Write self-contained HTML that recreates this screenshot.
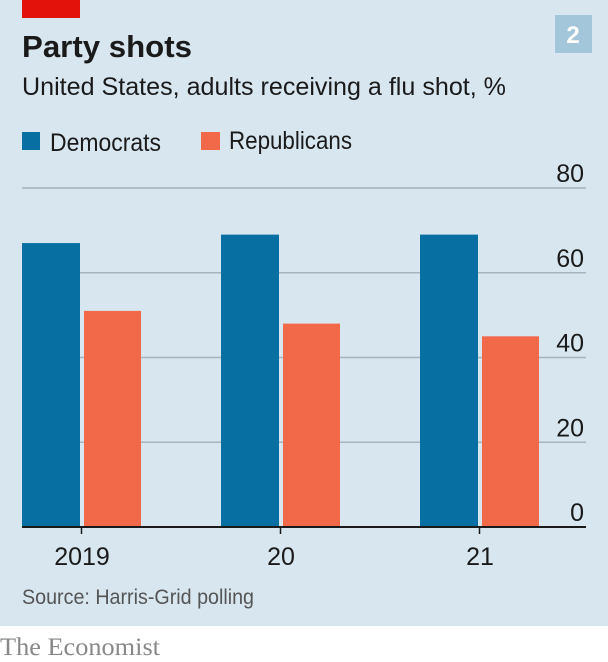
<!DOCTYPE html>
<html><head><meta charset="utf-8"><style>
body{margin:0;width:608px;height:662px;background:#fff;font-family:"Liberation Sans",sans-serif;overflow:hidden}
</style></head><body>
<svg width="608" height="662" style="display:block">
<rect x="0" y="0" width="608" height="626" fill="#d7e6ef"/>
<rect x="22" y="0" width="58" height="18" fill="#e3120b"/>
<rect x="555" y="15" width="37" height="38" fill="#a3c6da"/>
<text x="573" y="43" text-anchor="middle" fill="#fff" font-size="24" font-weight="bold">2</text>
<text x="22" y="57" font-size="31" font-weight="bold" fill="#1a1a1a" textLength="170" lengthAdjust="spacingAndGlyphs">Party shots</text>
<text x="22" y="95" font-size="25" fill="#1a1a1a" textLength="484" lengthAdjust="spacingAndGlyphs">United States, adults receiving a flu shot, %</text>
<rect x="22" y="132" width="18" height="18" fill="#076fa2"/>
<text x="50" y="151" font-size="25" fill="#1a1a1a" textLength="111" lengthAdjust="spacingAndGlyphs">Democrats</text>
<rect x="201" y="132" width="19" height="18" fill="#f2694a"/>
<text x="229" y="149" font-size="25" fill="#1a1a1a" textLength="123" lengthAdjust="spacingAndGlyphs">Republicans</text>
<g id="plot"></g>
<text x="22" y="604" font-size="21" fill="#555" textLength="232" lengthAdjust="spacingAndGlyphs">Source: Harris-Grid polling</text>
<text x="0" y="655" font-size="25" fill="#888" font-family="Liberation Serif,serif" textLength="160" lengthAdjust="spacingAndGlyphs">The Economist</text>
</svg>
<script>
const categories=["2019","20","21"];
const democrats=[67,69,69];
const republicans=[51,48,45];
const yTicks=[0,20,40,60,80];
const ns="http://www.w3.org/2000/svg";
const g=document.getElementById('plot');
const y0=527,yTop=188,ymax=80,x0=22,x1=586;
const y=v=>y0-(y0-yTop)*v/ymax;
const groupX=i=>22+i*199;
const bw=58;
function mk(t,a){const e=document.createElementNS(ns,t);for(const k in a)e.setAttribute(k,a[k]);g.appendChild(e);return e;}
yTicks.forEach(t=>{
  if(t>0){const l=mk('line',{x1:x0,x2:x1,y1:y(t),y2:y(t),stroke:'#a8b4bc','stroke-width':1.5});
  
  }
  const tx=mk('text',{x:584,y:y(t)-6,'text-anchor':'end','font-size':25,fill:'#1a1a1a'});tx.textContent=t;
  
  
});
categories.forEach((c,i)=>{
  const gx=groupX(i);
  const d=mk('rect',{x:gx,y:y(democrats[i]),width:bw,height:y0-y(democrats[i]),fill:'#076fa2'});
  
  
  const r=mk('rect',{x:gx+62,y:y(republicans[i]),width:bw-1,height:y0-y(republicans[i]),fill:'#f2694a'});
  
  
  const tk=mk('line',{x1:gx+59.5,x2:gx+59.5,y1:y0,y2:534,stroke:'#1a1a1a','stroke-width':1.5});
  
  
  const tl=mk('text',{x:gx+60,y:565,'text-anchor':'middle','font-size':25,fill:'#1a1a1a'});tl.textContent=c;
  
  
});
const base=mk('line',{x1:x0,x2:x1,y1:y0,y2:y0,stroke:'#1a1a1a','stroke-width':2});


</script>
</body></html>
